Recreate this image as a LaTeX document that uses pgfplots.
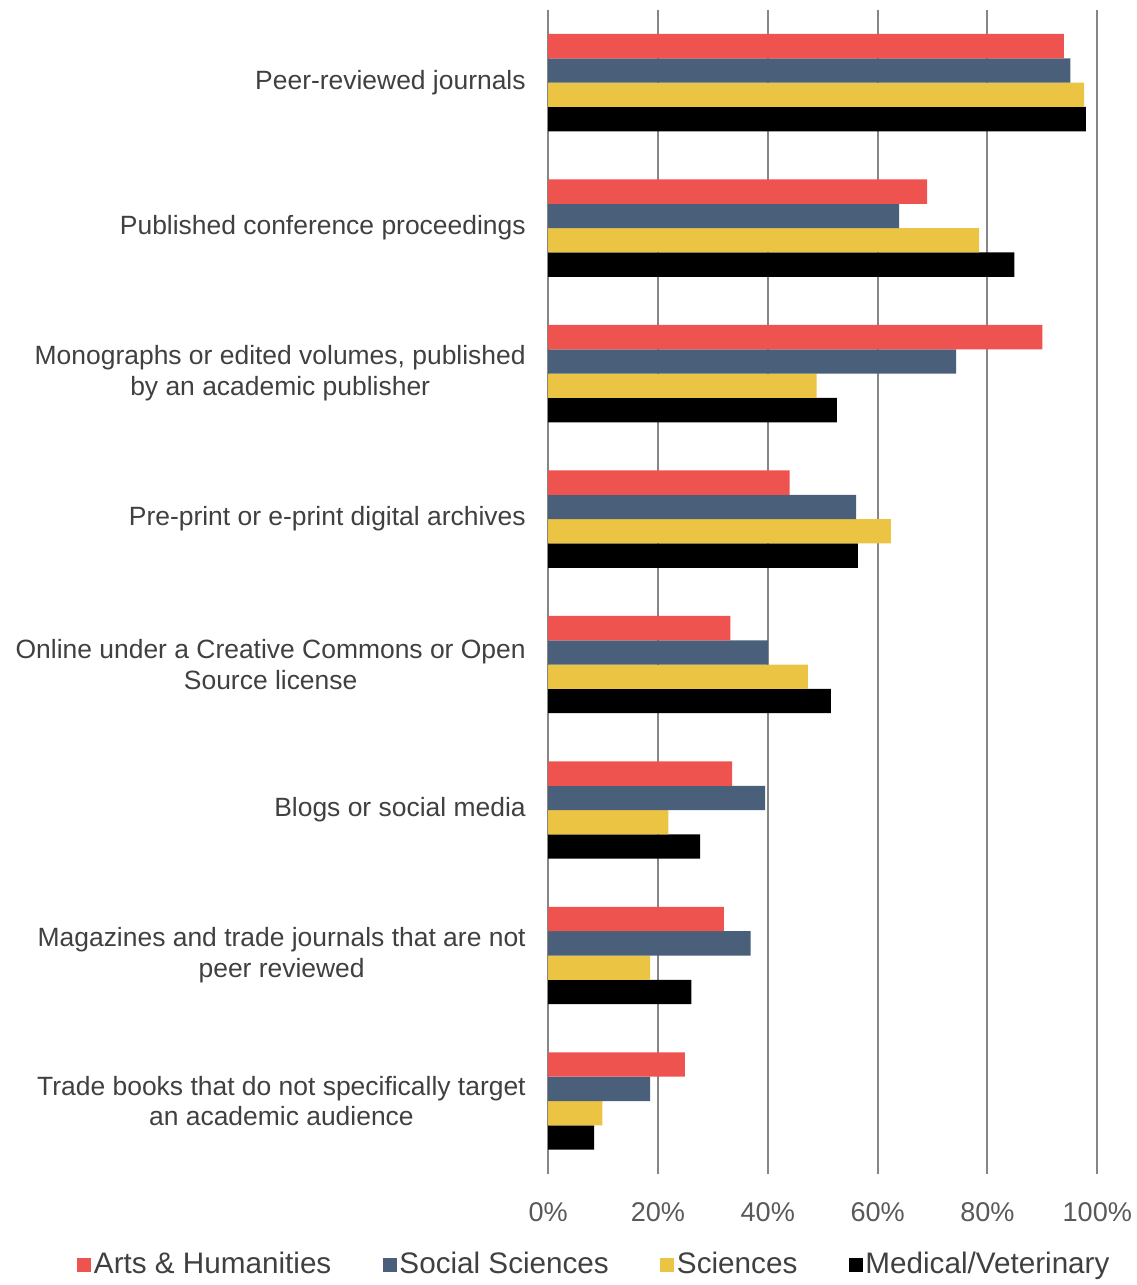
\documentclass[border=0pt]{standalone}
\usepackage{fontspec}
\setmainfont{Liberation Sans}
\usepackage{pgfplots}
\pgfplotsset{compat=1.18}

\definecolor{cArts}{RGB}{239,83,80}
\definecolor{cSoc}{RGB}{74,96,122}
\definecolor{cSci}{RGB}{236,196,68}
\definecolor{cMed}{RGB}{0,0,0}
\definecolor{gridc}{RGB}{134,134,134}
\definecolor{labc}{RGB}{64,64,64}
\definecolor{tickc}{RGB}{89,89,89}

\begin{document}
\begin{tikzpicture}
\begin{axis}[
  scale only axis,
  width=212.9pt, height=451.2pt,
  xbar=0pt, bar width=9.43pt,
  y dir=reverse,
  xmin=0, xmax=100, ymin=-0.5, ymax=7.5,
  clip=false,
  axis line style={draw=none},
  major tick length=0pt,
  xmajorgrids,
  grid style={gridc, line width=0.8pt},
  xtick={0,20,40,60,80,100},
  xticklabels={0\%,20\%,40\%,60\%,80\%,100\%},
  xticklabel style={font=\fontsize{10.5}{12}\selectfont, text=tickc, inner sep=0pt, yshift=-11pt},
  ytick={0,1,2,3,4,5,6,7},
  yticklabels={
    {Peer-reviewed journals},
    {Published conference proceedings},
    {Monographs or edited volumes, published\\by an academic publisher},
    {Pre-print or e-print digital archives},
    {Online under a Creative Commons or Open\\Source license},
    {Blogs or social media},
    {Magazines and trade journals that are not\\peer reviewed},
    {Trade books that do not specifically target\\an academic audience}},
  yticklabel style={font=\fontsize{10.25}{12}\selectfont, text=labc, align=center, inner sep=0pt, xshift=-8.5pt},
  reverse legend,
  legend style={at={(0.085,-0.078)}, anchor=center, draw=none, fill=none,
    legend columns=4, font=\fontsize{11.5}{13}\selectfont, text=labc,
    /tikz/every even column/.append style={column sep=19pt},
    nodes={inner sep=1pt}},
  legend image code/.code={\fill[#1, draw=none] (0pt,-2.7pt) rectangle (5.4pt,2.7pt);},
]
% plotted bottom-to-top so that Arts & Humanities ends up on top
\addplot[fill=cMed, draw=none] coordinates {
  (97.9,0) (84.9,1) (52.6,2) (56.4,3) (51.5,4) (27.7,5) (26.1,6) (8.4,7)};
\addplot[fill=cSci, draw=none] coordinates {
  (97.6,0) (78.5,1) (48.9,2) (62.4,3) (47.3,4) (21.9,5) (18.6,6) (9.9,7)};
\addplot[fill=cSoc, draw=none] coordinates {
  (95.1,0) (63.9,1) (74.3,2) (56.1,3) (40.0,4) (39.5,5) (36.9,6) (18.6,7)};
\addplot[fill=cArts, draw=none] coordinates {
  (93.9,0) (69.0,1) (90.0,2) (44.0,3) (33.2,4) (33.5,5) (32.0,6) (24.9,7)};
\legend{Medical/Veterinary, Sciences, Social Sciences, Arts \& Humanities}
\coordinate (tl) at (rel axis cs:-0.998,1.0085);
\coordinate (br) at (rel axis cs:1.072,-0.0879);
\end{axis}
\path (tl) rectangle (br);
\end{tikzpicture}
\end{document}
